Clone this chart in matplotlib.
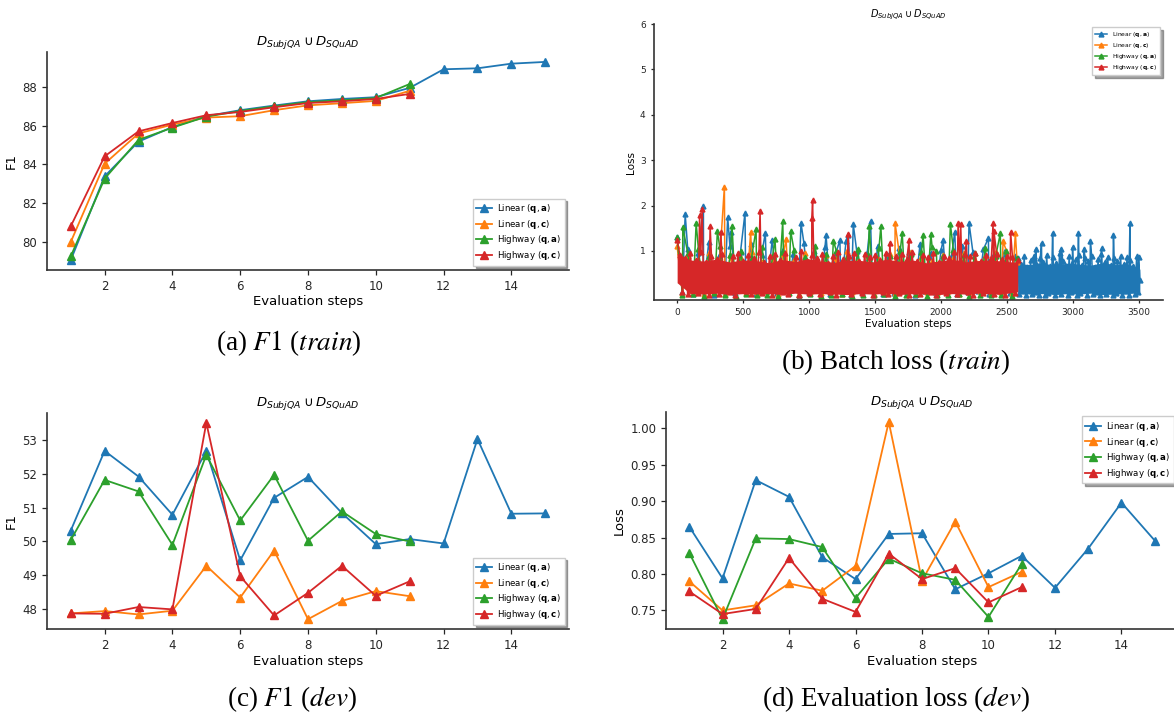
import numpy as np
import matplotlib
matplotlib.use("Agg")
import matplotlib.pyplot as plt

# ---------------- data ----------------
series_labels = [r"Linear ($\mathbf{q}, \mathbf{a}$)", r"Linear ($\mathbf{q}, \mathbf{c}$)",
                 r"Highway ($\mathbf{q}, \mathbf{a}$)", r"Highway ($\mathbf{q}, \mathbf{c}$)"]
colors = ["#1f77b4", "#ff7f0e", "#2ca02c", "#d62728"]

steps_long = list(range(1, 16))
steps_short = list(range(1, 12))

# (a) F1 train
f1_train_lin_qa = [79.07, 83.39, 85.18, 85.93, 86.49, 86.80, 87.04, 87.26, 87.38, 87.47, 87.95, 88.91, 88.96, 89.20, 89.29]
f1_train_lin_qc = [80.00, 84.04, 85.60, 86.06, 86.42, 86.49, 86.80, 87.05, 87.16, 87.28, 87.80]
f1_train_hw_qa = [79.26, 83.27, 85.27, 85.90, 86.47, 86.76, 87.00, 87.22, 87.31, 87.43, 88.15]
f1_train_hw_qc = [80.81, 84.42, 85.71, 86.14, 86.54, 86.71, 86.95, 87.17, 87.26, 87.38, 87.64]

# (c) F1 dev
f1_dev_lin_qa = [50.32, 52.68, 51.92, 50.79, 52.68, 49.44, 51.29, 51.91, 50.84, 49.92, 50.07, 49.94, 53.03, 50.82, 50.83]
f1_dev_lin_qc = [47.87, 47.94, 47.84, 47.95, 49.28, 48.34, 49.73, 47.70, 48.24, 48.53, 48.38]
f1_dev_hw_qa = [50.04, 51.82, 51.48, 49.90, 52.56, 50.62, 51.97, 50.02, 50.89, 50.22, 50.00]
f1_dev_hw_qc = [47.87, 47.86, 48.06, 47.99, 53.51, 48.97, 47.81, 48.48, 49.28, 48.39, 48.82]

# (d) evaluation loss dev
loss_dev_lin_qa = [0.865, 0.794, 0.929, 0.906, 0.823, 0.793, 0.855, 0.856, 0.779, 0.801, 0.825, 0.781, 0.835, 0.898, 0.846]
loss_dev_lin_qc = [0.790, 0.750, 0.757, 0.787, 0.777, 0.811, 1.009, 0.791, 0.872, 0.782, 0.803]
loss_dev_hw_qa = [0.829, 0.738, 0.849, 0.848, 0.837, 0.767, 0.821, 0.801, 0.792, 0.741, 0.814]
loss_dev_hw_qc = [0.776, 0.745, 0.752, 0.822, 0.766, 0.748, 0.828, 0.793, 0.808, 0.761, 0.782]

# (b) batch loss train: dense band values (read as a representative sample) + visible spikes
red_band = [
    1.25, 0.92, 0.10, 0.85, 0.05, 0.95, 0.22, 0.80, 0.08, 0.97,
    0.15, 0.75, 0.04, 0.90, 0.28, 0.83, 0.06, 0.94, 0.18, 0.70,
    0.09, 0.88, 0.03, 0.96, 0.25, 0.79, 0.12, 0.91, 0.05, 0.84,
    0.20, 0.98, 0.07, 0.76, 0.14, 0.89, 0.04, 0.93, 0.30, 0.81,
    0.10, 0.95, 0.06, 0.72, 0.17, 0.87, 0.03, 0.99, 0.23, 0.78,
    0.08, 0.92, 0.13, 0.85, 0.05, 0.94, 0.26, 0.74, 0.09, 0.90,
    0.04, 0.97, 0.19, 0.82, 0.11, 0.88, 0.06, 0.95, 0.29, 0.77,
    0.07, 0.93, 0.15, 0.86, 0.03, 0.91, 0.21, 0.80, 0.10, 0.96,
    0.05, 0.73, 0.16, 0.89, 0.08, 0.94, 0.27, 0.83, 0.04, 0.98,
    0.12, 0.79, 0.06, 0.92, 0.24, 0.87, 0.09, 0.95, 0.03, 0.75,
    0.18, 0.90, 0.07, 0.84, 0.13, 0.97, 0.05, 0.81, 0.22, 0.93,
    0.10, 0.88, 0.04, 0.96, 0.16, 0.78, 0.08, 0.91, 0.25, 0.85,
    0.06, 0.94, 0.11, 0.82, 0.03, 0.89, 0.20, 0.86, 0.07, 0.80]
blue_band_left = [
    1.30, 0.10, 1.05, 0.06, 0.95, 0.15, 1.20, 0.04, 0.90, 0.12,
    1.10, 0.08, 0.98, 0.20, 1.15, 0.05, 0.92, 0.11, 1.25, 0.07,
    1.02, 0.16, 0.94, 0.03, 1.18, 0.09, 0.99, 0.13, 1.08, 0.06,
    0.93, 0.18, 1.22, 0.04, 1.00, 0.10, 0.96, 0.14, 1.12, 0.05,
    0.91, 0.08, 1.06, 0.17, 0.97, 0.03, 1.16, 0.11, 0.95, 0.07,
    1.03, 0.15, 0.92, 0.05, 1.10, 0.09, 0.98, 0.12, 1.04, 0.06,
    0.94, 0.16, 1.00, 0.08, 0.90]
blue_band_right = [
    0.85, 0.05, 0.72, 0.12, 0.88, 0.03, 0.65, 0.20, 0.80, 0.06,
    0.90, 0.10, 0.70, 0.02, 0.84, 0.15, 0.76, 0.04, 0.92, 0.08,
    0.68, 0.18, 0.86, 0.03, 0.74, 0.11, 0.95, 0.05, 0.79, 0.14,
    0.66, 0.02, 0.88, 0.09, 0.73, 0.16, 0.83, 0.04, 0.91, 0.07,
    0.70, 0.13, 0.85, 0.02, 0.77, 0.19, 0.89, 0.06, 0.64, 0.10,
    0.82, 0.03, 0.93, 0.12, 0.75, 0.05, 0.87, 0.17, 0.69, 0.02,
    0.84, 0.08, 0.78, 0.14, 0.90, 0.04, 0.72, 0.11, 0.86, 0.03,
    0.80, 0.15, 0.67, 0.06, 0.88, 0.09, 0.35]
green_band = [
    1.30, 0.02, 0.95, 0.05, 1.05, 0.01, 0.88, 0.08, 1.10, 0.03,
    0.92, 0.00, 1.00, 0.06, 0.85, 0.02, 1.08, 0.04, 0.90, 0.01,
    0.97, 0.07, 1.02, 0.02, 0.86, 0.05, 1.12, 0.00, 0.93, 0.03,
    0.99, 0.06, 0.87, 0.01, 1.04, 0.04, 0.91, 0.02, 1.07, 0.05,
    0.89, 0.00, 1.01, 0.03, 0.94, 0.06, 0.98, 0.01, 1.09, 0.04,
    0.88, 0.02, 1.03, 0.05, 0.92, 0.00, 0.96, 0.03, 1.06, 0.02,
    0.90, 0.04, 1.00, 0.01, 0.85]
orange_band = [
    1.10, 0.08, 0.90, 0.12, 0.80, 0.06, 0.95, 0.10, 0.78, 0.05,
    0.92, 0.14, 0.84, 0.07, 0.98, 0.09, 0.76, 0.11, 0.88, 0.05,
    0.93, 0.13, 0.81, 0.06, 0.96, 0.10, 0.79, 0.08, 0.91, 0.12,
    0.85, 0.05, 0.99, 0.09, 0.77, 0.14, 0.90, 0.06, 0.83, 0.11,
    0.94, 0.07, 0.80, 0.13, 0.97, 0.05, 0.86, 0.10, 0.78, 0.08,
    0.92, 0.12, 0.84, 0.06, 0.95, 0.09, 0.81, 0.11, 0.89, 0.07,
    0.98, 0.10, 1.00, 0.08, 0.75]

# dense core of the band (where the zig-zag lines overlap into a solid area)
red_core_high = [0.95, 0.80, 0.78, 0.82, 0.76, 0.80, 0.79, 0.74, 0.81, 0.77, 0.83, 0.78, 0.75, 0.80,
                 0.79, 0.76, 0.82, 0.77, 0.80, 0.74, 0.78, 0.81, 0.76, 0.79, 0.80, 0.77, 0.75]
red_core_low = [0.30, 0.06, 0.05, 0.07, 0.04, 0.06, 0.05, 0.06, 0.04, 0.07, 0.05, 0.06, 0.05, 0.04,
                0.06, 0.05, 0.07, 0.04, 0.06, 0.05, 0.04, 0.06, 0.05, 0.07, 0.05, 0.06, 0.10]
blue_core_high = [0.72, 0.70, 0.74, 0.68, 0.73, 0.71, 0.69, 0.74, 0.70, 0.72, 0.60]
blue_core_low = [0.07, 0.05, 0.06, 0.04, 0.06, 0.05, 0.07, 0.04, 0.05, 0.06, 0.10]

blue_spike_steps = [61, 199, 383, 411, 514, 668, 938, 1128, 1233, 1296, 1334, 1465, 2015, 2103, 2211, 2358,
                    2715, 2760, 2844, 2910, 2995, 3040, 3080, 3130, 3215, 3305, 3430, 3495]
blue_spike_vals = [1.81, 1.98, 1.74, 1.42, 1.84, 1.40, 1.62, 1.35, 1.24, 1.35, 1.59, 1.66, 1.24, 1.42, 1.62, 1.28,
                   1.04, 1.18, 1.40, 1.05, 1.08, 1.40, 1.05, 1.23, 1.07, 1.35, 1.61, 0.87]
orange_spike_steps = [358, 557, 825, 1651, 2469, 2562]
orange_spike_vals = [2.42, 1.41, 1.26, 1.61, 1.21, 1.39]
green_spike_steps = [43, 144, 305, 416, 598, 741, 800, 860, 1183, 1455, 1543, 1705, 1863, 1922, 1964, 2070, 2448]
green_spike_vals = [1.52, 1.62, 1.44, 1.55, 1.48, 1.26, 1.66, 1.44, 1.23, 1.54, 1.54, 1.39, 1.35, 1.37, 1.00, 1.59, 1.39]
red_spike_steps = [170, 190, 250, 330, 628, 1020, 1026, 1296, 1611, 1757, 2128, 2148, 2191, 2393, 2400, 2526]
red_spike_vals = [1.79, 1.92, 1.54, 1.41, 1.89, 1.72, 2.12, 1.38, 1.18, 1.24, 1.61, 1.59, 1.21, 1.61, 1.43, 1.42]

# ---------------- figure ----------------
W, H = 1174, 718
fig = plt.figure(figsize=(W / 100, H / 100), dpi=100)
plt.rcParams["axes.edgecolor"] = "#333333"

title_txt = r"$D_{SubjQA} \cup D_{SQuAD}$"


def px_axes(l, t, r, b):
    return fig.add_axes([l / W, 1 - b / H, (r - l) / W, (b - t) / H])


def style(ax, tick_fs):
    for s in ("top", "right"):
        ax.spines[s].set_visible(False)
    for s in ("left", "bottom"):
        ax.spines[s].set_linewidth(1.2)
    ax.tick_params(labelsize=tick_fs, length=3.5, width=0.9, colors="#262626")


def small_panel(ax, data, ylabel, legend_loc):
    xs = [steps_long, steps_short, steps_short, steps_short]
    for x, y, c, lab in zip(xs, data, colors, series_labels):
        ax.plot(x, y, color=c, marker="^", ms=5.5, lw=1.3, label=lab)
    style(ax, 8.5)
    ax.set_xlabel("Evaluation steps", fontsize=9.5, labelpad=2)
    ax.set_ylabel(ylabel, fontsize=9.5, labelpad=3)
    ax.set_title(title_txt, fontsize=9.5, pad=5)
    ax.legend(loc=legend_loc, fontsize=6.2, shadow=True, fancybox=False, framealpha=1,
              edgecolor="#cccccc", handlelength=1.8, borderpad=0.4, labelspacing=0.32,
              handletextpad=0.6)


ax_a = px_axes(47, 52, 569, 270)
small_panel(ax_a, [f1_train_lin_qa, f1_train_lin_qc, f1_train_hw_qa, f1_train_hw_qc], "F1", "lower right")

ax_c = px_axes(47, 413, 569, 629)
small_panel(ax_c, [f1_dev_lin_qa, f1_dev_lin_qc, f1_dev_hw_qa, f1_dev_hw_qc], "F1", "lower right")

ax_d = px_axes(666, 412, 1178, 629)
small_panel(ax_d, [loss_dev_lin_qa, loss_dev_lin_qc, loss_dev_hw_qa, loss_dev_hw_qc], "Loss", "upper right")

# (b) batch loss
ax_b = px_axes(654, 24, 1163, 300)
blue_steps = np.concatenate([np.linspace(0, 2560, len(blue_band_left)),
                             np.linspace(2580, 3505, len(blue_band_right)), blue_spike_steps])
blue_vals = np.concatenate([blue_band_left, blue_band_right, blue_spike_vals])
orange_steps = np.concatenate([np.linspace(0, 2575, len(orange_band)), orange_spike_steps])
orange_vals = np.concatenate([orange_band, orange_spike_vals])
green_steps = np.concatenate([np.linspace(0, 2575, len(green_band)), green_spike_steps])
green_vals = np.concatenate([green_band, green_spike_vals])
red_steps = np.concatenate([np.linspace(0, 2580, len(red_band)), red_spike_steps])
red_vals = np.concatenate([red_band, red_spike_vals])

all_steps = [blue_steps, orange_steps, green_steps, red_steps]
all_vals = [blue_vals, orange_vals, green_vals, red_vals]
for i, (st, va, c, lab) in enumerate(zip(all_steps, all_vals, colors, series_labels)):
    o = np.argsort(st, kind="stable")
    if i == 0:
        ax_b.fill_between(np.linspace(2580, 3505, len(blue_core_high)), blue_core_low, blue_core_high,
                          color=c, lw=0, zorder=2)
    if i == 3:
        ax_b.fill_between(np.linspace(0, 2580, len(red_core_high)), red_core_low, red_core_high,
                          color=c, lw=0, zorder=2)
    ax_b.plot(st[o], va[o], color=c, marker="^", ms=3.5, lw=1.1, label=lab, zorder=2)
style(ax_b, 6.5)
ax_b.set_ylim(-0.08, 6)
ax_b.set_yticks([1, 2, 3, 4, 5, 6])
ax_b.set_xlabel("Evaluation steps", fontsize=7.5, labelpad=1)
ax_b.set_ylabel("Loss", fontsize=7.5, labelpad=3)
ax_b.set_title(title_txt, fontsize=7, pad=5)
ax_b.tick_params(length=2.5)
ax_b.legend(loc="upper right", fontsize=4.3, shadow=True, fancybox=False, framealpha=1,
            edgecolor="#cccccc", handlelength=2.0, borderpad=0.5, labelspacing=0.35)

# captions
cap_kw = dict(ha="center", va="center", fontsize=19.5, family="Liberation Serif", math_fontfamily="stix")
fig.text(289 / W, 1 - 343 / H, r"(a) $F1$ ($\mathit{train}$)", **cap_kw)
fig.text(896 / W, 1 - 362 / H, r"(b) Batch loss ($\mathit{train}$)", **cap_kw)
fig.text(292 / W, 1 - 699 / H, r"(c) $F1$ ($\mathit{dev}$)", **cap_kw)
fig.text(896 / W, 1 - 699 / H, r"(d) Evaluation loss ($\mathit{dev}$)", **cap_kw)

fig.savefig("out.png", dpi=100)
